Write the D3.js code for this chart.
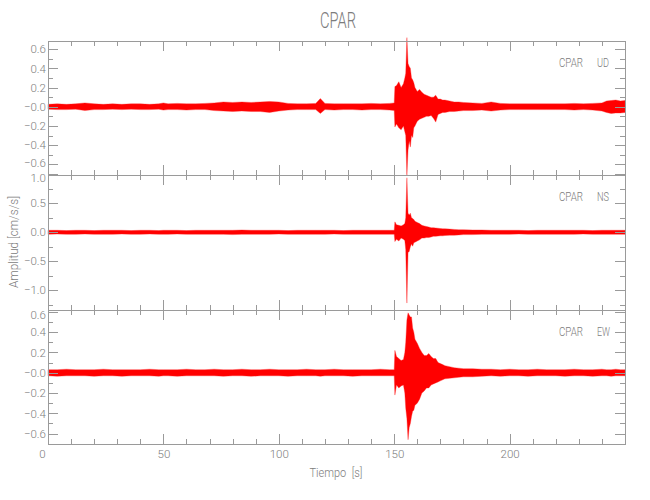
<!DOCTYPE html>
<html><head><meta charset="utf-8">
<script src="https://cdn.jsdelivr.net/npm/d3@7"></script>
<style>body{margin:0;background:#fff}svg{display:block}</style>
</head><body><svg id="c" width="650" height="500"></svg>
<script>
// ---- data (envelope of the accelerograms) ----
const station = "CPAR";
const components = ["UD", "NS", "EW"];
const times = [0,4,8,12,16,20,24,28,32,36,40,44,48,50,52,56,60,64,68,72,76,80,84,88,92,96,100,104,108,112,116,118,120,124,128,132,136,140,144,148,
  150,150.3,151,152,153,154,154.6,155,155.5,156,156.5,157,157.5,158,158.5,159,160,161,162,163,164,165,166,167,168,169,170,171,172,174,176,178,180,
  184,188,192,196,200,204,208,212,216,220,224,228,232,236,240,242,244,246,248,250];

const udHi = [.025,.03,.025,.03,.04,.03,.025,.03,.025,.03,.03,.025,.03,.04,.03,.035,.03,.03,.035,.04,.05,.045,.05,.045,.05,.055,.05,.035,.03,.03,.035,.085,.035,.03,.03,.03,.03,.035,.03,.035,
  .04,.21,.22,.26,.2,.24,.3,.35,.72,.45,.42,.4,.3,.28,.25,.2,.16,.18,.15,.13,.12,.11,.1,.1,.12,.08,.08,.07,.07,.06,.05,.05,.045,
  .04,.035,.05,.035,.03,.03,.03,.03,.03,.03,.03,.035,.03,.035,.04,.06,.065,.07,.06,.065];
const udLo = [-.025,-.03,-.03,-.025,-.04,-.03,-.03,-.025,-.03,-.025,-.03,-.03,-.025,-.035,-.03,-.03,-.035,-.03,-.03,-.04,-.045,-.05,-.045,-.05,-.05,-.06,-.045,-.035,-.03,-.03,-.03,-.07,-.03,-.035,-.03,-.03,-.035,-.03,-.03,-.035,
  -.04,-.21,-.18,-.22,-.24,-.2,-.26,-.3,-.72,-.45,-.36,-.42,-.3,-.32,-.22,-.2,-.15,-.13,-.12,-.11,-.1,-.1,-.09,-.12,-.16,-.08,-.07,-.06,-.06,-.05,-.05,-.045,-.04,
  -.04,-.035,-.045,-.035,-.03,-.03,-.03,-.03,-.03,-.03,-.03,-.035,-.03,-.035,-.045,-.06,-.07,-.065,-.065,-.06];

const nsHi = [.035,.035,.03,.035,.035,.03,.035,.035,.035,.03,.035,.035,.03,.035,.035,.035,.03,.035,.035,.035,.035,.035,.04,.035,.035,.035,.035,.03,.035,.035,.035,.035,.035,.035,.03,.035,.035,.035,.035,.035,
  .035,.18,.13,.12,.11,.13,.15,.25,.94,.33,.3,.33,.25,.24,.22,.19,.17,.15,.12,.11,.1,.09,.08,.08,.075,.07,.065,.06,.06,.055,.05,.045,.045,
  .04,.04,.035,.035,.035,.035,.03,.035,.035,.035,.035,.035,.035,.03,.035,.035,.035,.035,.035,.035];
const nsLo = [-.035,-.03,-.035,-.035,-.03,-.035,-.035,-.035,-.03,-.035,-.035,-.03,-.035,-.035,-.035,-.03,-.035,-.035,-.035,-.035,-.035,-.04,-.035,-.035,-.035,-.035,-.03,-.035,-.035,-.035,-.035,-.035,-.035,-.03,-.035,-.035,-.035,-.035,-.035,-.035,
  -.035,-.16,-.12,-.15,-.1,-.12,-.14,-.3,-1.22,-.35,-.33,-.25,-.2,-.24,-.18,-.17,-.15,-.13,-.1,-.1,-.09,-.09,-.08,-.07,-.07,-.065,-.06,-.06,-.055,-.05,-.05,-.045,-.04,
  -.04,-.035,-.035,-.035,-.035,-.03,-.035,-.035,-.035,-.035,-.035,-.035,-.03,-.035,-.035,-.035,-.035,-.035,-.035,-.035];

const ewHi = [.03,.03,.035,.03,.03,.03,.035,.03,.03,.03,.03,.035,.03,.03,.03,.03,.035,.03,.03,.035,.03,.03,.035,.03,.03,.035,.03,.03,.03,.035,.03,.03,.03,.035,.03,.03,.03,.03,.035,.03,
  .03,.22,.16,.14,.12,.13,.2,.3,.52,.59,.57,.55,.55,.44,.4,.33,.29,.24,.2,.17,.17,.19,.16,.14,.14,.1,.09,.08,.07,.06,.05,.045,.04,
  .04,.035,.035,.03,.035,.03,.03,.035,.03,.03,.03,.035,.03,.03,.035,.03,.03,.035,.03,.03];
const ewLo = [-.03,-.035,-.03,-.03,-.03,-.035,-.03,-.03,-.035,-.03,-.03,-.03,-.035,-.03,-.03,-.035,-.03,-.03,-.03,-.03,-.035,-.03,-.03,-.035,-.03,-.03,-.03,-.035,-.03,-.03,-.03,-.035,-.03,-.03,-.03,-.035,-.03,-.03,-.03,-.03,
  -.03,-.22,-.12,-.15,-.13,-.12,-.2,-.35,-.45,-.66,-.54,-.5,-.43,-.38,-.37,-.32,-.3,-.26,-.2,-.18,-.15,-.15,-.12,-.11,-.1,-.09,-.08,-.07,-.06,-.055,-.05,-.045,-.04,
  -.04,-.035,-.03,-.035,-.03,-.03,-.035,-.03,-.03,-.03,-.035,-.03,-.03,-.035,-.03,-.03,-.035,-.03,-.03,-.03];

const xDomain = [0, 250];
const xMajorTicks = [0, 50, 100, 150, 200];
const xMinorStep = 10;
const yDomains = [[-0.711, 0.69], [-1.331, 0.988], [-0.702, 0.623]];
const yMajorTicks = [[-0.6,-0.4,-0.2,0,0.2,0.4,0.6], [-1,-0.5,0,0.5,1], [-0.6,-0.4,-0.2,0,0.2,0.4,0.6]];
const yTickLabels = [["\u22120.6","\u22120.4","\u22120.2","\u22120.0","0.2","0.4","0.6"],
                     ["\u22121.0","\u22120.5","0.0","0.5","1.0"],
                     ["\u22120.6","\u22120.4","\u22120.2","\u22120.0","0.2","0.4","0.6"]];
const yMinorStep = [0.1, 0.25, 0.1];
const title = "CPAR";
const xTitle = "Tiempo  [s]";
const yTitle = "Amplitud  [cm/s/s]";

// ---- drawing ----
const his = [udHi, nsHi, ewHi], los = [udLo, nsLo, ewLo];
const svg = d3.select("#c");
const L = 48, R = 625, top0 = 40.5, ph = 134.5;
const axisCol = "#9a9a9a", textCol = "#7c7c7c";
const FONT = "Roboto, 'DejaVu Sans', sans-serif";
const x = d3.scaleLinear().domain(xDomain).range([L, R]);
const xMinor = d3.range(xDomain[0], xDomain[1] + 0.001, xMinorStep).filter(v => !xMajorTicks.includes(v));

function styleAxis(g) {
  g.selectAll("path,line").attr("stroke", axisCol).attr("stroke-width", 1).attr("shape-rendering", "crispEdges");
  g.selectAll("text").attr("fill", textCol).attr("font-family", FONT).attr("font-weight", 300).attr("font-size", 11.5);
}

components.forEach((comp, i) => {
  const t = top0 + i * ph, b = t + ph;
  const y = d3.scaleLinear().domain(yDomains[i]).range([b, t]);
  const n = Math.min(times.length, his[i].length, los[i].length);
  const pts = d3.range(n).map(k => ({t: times[k], hi: his[i][k], lo: los[i][k]}));
  const area = d3.area().x(d => x(d.t)).y0(d => y(d.lo)).y1(d => y(d.hi));
  svg.append("path").datum(pts).attr("d", area)
    .attr("fill", "#ff0000").attr("stroke", "rgba(255,40,40,0.45)").attr("stroke-width", 0.8);

  const g = svg.append("g");
  const yMin = d3.range(Math.ceil(yDomains[i][0] / yMinorStep[i]) * yMinorStep[i], yDomains[i][1] + 1e-6, yMinorStep[i])
    .map(v => Math.round(v * 100) / 100)
    .filter(v => !yMajorTicks[i].some(m => Math.abs(m - v) < 1e-6));
  // left
  const la = g.append("g").attr("transform", `translate(${L},0)`)
    .call(d3.axisLeft(y).tickValues(yMajorTicks[i]).tickSize(-10).tickSizeOuter(0).tickPadding(2)
      .tickFormat((d, k) => yTickLabels[i][k])).call(styleAxis);
  // keep labels at the shared panel borders just clear of each other
  if (i > 0) la.selectAll(".tick text").filter(d => y(d) < t + 3).attr("dy", "0.62em");
  if (i < components.length - 1) la.selectAll(".tick text").filter(d => y(d) > b - 14).attr("dy", "0.18em");
  g.append("g").attr("transform", `translate(${L},0)`)
    .call(d3.axisLeft(y).tickValues(yMin).tickSize(-5).tickSizeOuter(0).tickFormat("")).call(styleAxis);
  // right
  g.append("g").attr("transform", `translate(${R},0)`)
    .call(d3.axisRight(y).tickValues(yMajorTicks[i]).tickSize(-10).tickSizeOuter(0).tickFormat("")).call(styleAxis);
  g.append("g").attr("transform", `translate(${R},0)`)
    .call(d3.axisRight(y).tickValues(yMin).tickSize(-5).tickSizeOuter(0).tickFormat("")).call(styleAxis);
  // top
  g.append("g").attr("transform", `translate(0,${t})`)
    .call(d3.axisTop(x).tickValues(xMajorTicks).tickSize(-10).tickSizeOuter(0).tickFormat("")).call(styleAxis);
  g.append("g").attr("transform", `translate(0,${t})`)
    .call(d3.axisTop(x).tickValues(xMinor).tickSize(-5).tickSizeOuter(0).tickFormat("")).call(styleAxis);
  // bottom
  const ba = g.append("g").attr("transform", `translate(0,${b})`)
    .call(d3.axisBottom(x).tickValues(xMajorTicks).tickSize(-10).tickSizeOuter(0).tickPadding(5.5)
      .tickFormat(i === components.length - 1 ? d3.format("d") : "")).call(styleAxis);
  ba.selectAll(".tick text").filter(d => d === 0).attr("dx", -6);
  g.append("g").attr("transform", `translate(0,${b})`)
    .call(d3.axisBottom(x).tickValues(xMinor).tickSize(-5).tickSizeOuter(0).tickFormat("")).call(styleAxis);

  // component label
  const lab = svg.append("g").attr("font-family", FONT).attr("font-weight", 300).attr("fill", textCol).attr("font-size", 13);
  lab.append("text").attr("x", 559).attr("y", t + 26).attr("textLength", 24).attr("lengthAdjust", "spacingAndGlyphs").text(station);
  lab.append("text").attr("x", 597).attr("y", t + 26).attr("textLength", comp === "EW" ? 13 : 12).attr("lengthAdjust", "spacingAndGlyphs").text(comp);
});

// titles
svg.append("text").attr("x", 338).attr("y", 28).attr("text-anchor", "middle")
  .attr("font-family", FONT).attr("font-weight", 300).attr("font-size", 22).attr("fill", textCol)
  .attr("textLength", 36).attr("lengthAdjust", "spacingAndGlyphs").text(title);
svg.append("text").attr("x", 336).attr("y", 477).attr("text-anchor", "middle")
  .attr("font-family", FONT).attr("font-weight", 300).attr("font-size", 13).attr("fill", textCol)
  .attr("textLength", 53).attr("lengthAdjust", "spacingAndGlyphs").attr("xml:space", "preserve").text(xTitle);
svg.append("text").attr("transform", "translate(18,242) rotate(-90)").attr("text-anchor", "middle")
  .attr("font-family", FONT).attr("font-weight", 300).attr("font-size", 13).attr("fill", textCol)
  .attr("textLength", 92).attr("lengthAdjust", "spacingAndGlyphs").text(yTitle);
</script>
</body></html>
